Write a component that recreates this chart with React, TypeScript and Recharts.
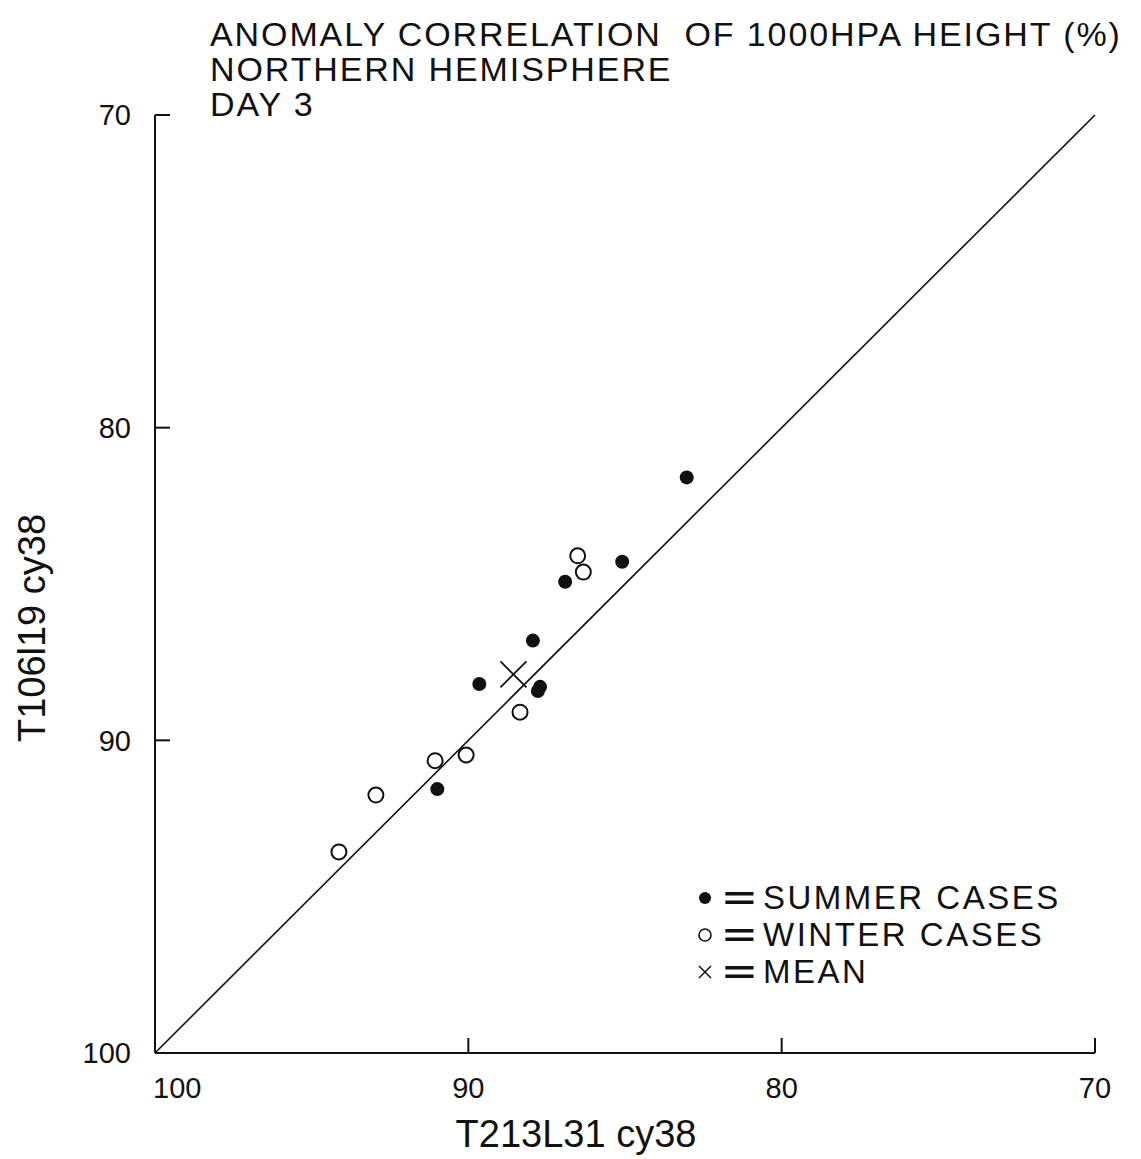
import React from 'react';
import { ScatterChart, Scatter, XAxis, YAxis, ReferenceLine, Legend } from 'recharts';

// values (x = T213L31, y = T106l19), both in %
const summerCases = [
  { x: 83.03, y: 81.59 },
  { x: 85.09, y: 84.29 },
  { x: 86.91, y: 84.93 },
  { x: 87.94, y: 86.81 },
  { x: 89.65, y: 88.2 },
  { x: 87.71, y: 88.29 },
  { x: 87.78, y: 88.42 },
  { x: 90.99, y: 91.56 },
];
const winterCases = [
  { x: 86.51, y: 84.1 },
  { x: 86.33, y: 84.62 },
  { x: 88.35, y: 89.1 },
  { x: 90.07, y: 90.47 },
  { x: 91.06, y: 90.65 },
  { x: 92.95, y: 91.75 },
  { x: 94.13, y: 93.57 },
];
const meanCase = [{ x: 88.56, y: 87.89 }];
const axisTicks = [100, 90, 80, 70];
const diagonal = [
  { x: 100, y: 100 },
  { x: 70, y: 70 },
];
const seriesNames = ['SUMMER CASES', 'WINTER CASES', 'MEAN'];
const titleLines = ['ANOMALY CORRELATION  OF 1000HPA HEIGHT (%)', 'NORTHERN HEMISPHERE', 'DAY 3'];
const xTitle = 'T213L31 cy38';
const yTitle = 'T106l19 cy38';

const FONT = '"Liberation Sans", Arial, Helvetica, sans-serif';
const INK = '#111';

const FilledDot = (props: any) => <circle cx={props.cx} cy={props.cy} r={7} fill={INK} />;
const OpenDot = (props: any) => (
  <circle cx={props.cx} cy={props.cy} r={7.5} fill="#fff" stroke={INK} strokeWidth={2} />
);
const Cross = (props: any) => {
  const { cx, cy } = props;
  const s = 13;
  return (
    <g stroke={INK} strokeWidth={1.8}>
      <line x1={cx - s} y1={cy - s} x2={cx + s} y2={cy + s} />
      <line x1={cx - s} y1={cy + s} x2={cx + s} y2={cy - s} />
    </g>
  );
};

const XTick = (props: any) => {
  const { x, y, payload } = props;
  const first = payload.value === 100;
  return (
    <text
      x={first ? x - 2 : x}
      y={y}
      dy="0.71em"
      textAnchor={first ? 'start' : 'middle'}
      fontSize={29}
      fontFamily={FONT}
      fill={INK}
    >
      {payload.value}
    </text>
  );
};

const legendIcon = (name: string) => {
  if (name === seriesNames[0]) return <circle cx={10} cy={10} r={6} fill={INK} />;
  if (name === seriesNames[1])
    return <circle cx={10} cy={10} r={6} fill="none" stroke={INK} strokeWidth={1.6} />;
  return (
    <g stroke={INK} strokeWidth={1.5}>
      <line x1={4} y1={4} x2={16} y2={16} />
      <line x1={4} y1={16} x2={16} y2={4} />
    </g>
  );
};

const renderLegend = (props: any) => {
  const items = [...(props.payload || [])].sort(
    (a: any, b: any) => seriesNames.indexOf(a.value) - seriesNames.indexOf(b.value)
  );
  return (
    <div style={{ fontFamily: FONT, color: INK }}>
      {items.map((item: any) => (
        <div key={item.value} style={{ display: 'flex', alignItems: 'center', height: 37 }}>
          <svg width={20} height={20} style={{ marginRight: 8 }}>
            {legendIcon(item.value)}
          </svg>
          <span
            style={{
              display: 'inline-block',
              fontSize: 32,
              fontWeight: 'bold',
              transform: 'scaleX(1.75)',
              transformOrigin: 'left center',
              width: 40,
              lineHeight: '32px',
            }}
          >
            =
          </span>
          <span style={{ fontSize: 33, lineHeight: '33px', letterSpacing: 2.5 }}>{item.value}</span>
        </div>
      ))}
    </div>
  );
};

export default function App() {
  return (
    <div style={{ position: 'absolute', left: 0, top: 0, width: 1141, height: 1159, background: '#fff' }}>
      <div
        style={{
          position: 'absolute',
          left: 210,
          top: 17,
          fontFamily: FONT,
          fontSize: 34,
          lineHeight: '35px',
          letterSpacing: 1.9,
          color: INK,
          whiteSpace: 'pre',
          zIndex: 2,
        }}
      >
        {titleLines.map((t) => (
          <div key={t}>{t}</div>
        ))}
      </div>
      <ScatterChart width={1141} height={1159} margin={{ top: 115, right: 46, bottom: 36, left: 85 }}>
        <XAxis
          type="number"
          dataKey="x"
          domain={[70, 100]}
          reversed
          ticks={axisTicks}
          interval={0}
          height={70}
          axisLine={{ stroke: INK, strokeWidth: 2 }}
          tickLine={{ stroke: INK, strokeWidth: 2 }}
          tickSize={-15}
          tickMargin={39}
          tick={<XTick />}
          label={{
            content: () => (
              <text x={576} y={1147} textAnchor="middle" fontSize={38} fontFamily={FONT} fill={INK}>
                {xTitle}
              </text>
            ),
          }}
        />
        <YAxis
          type="number"
          dataKey="y"
          domain={[70, 100]}
          reversed
          ticks={axisTicks}
          interval={0}
          width={70}
          axisLine={{ stroke: INK, strokeWidth: 2 }}
          tickLine={{ stroke: INK, strokeWidth: 2 }}
          tickSize={-15}
          tickMargin={39}
          tick={{ fontSize: 29, fontFamily: FONT, fill: INK }}
          label={{
            content: () => (
              <text
                x={45}
                y={628}
                transform="rotate(-90 45 628)"
                textAnchor="middle"
                fontSize={38}
                fontFamily={FONT}
                fill={INK}
              >
                {yTitle}
              </text>
            ),
          }}
        />
        <ReferenceLine segment={diagonal} stroke={INK} strokeWidth={1.6} ifOverflow="visible" />
        <Legend
          layout="vertical"
          align="center"
          verticalAlign="middle"
          wrapperStyle={{ left: 695, top: 879, width: 420 }}
          content={renderLegend}
        />
        <Scatter name={seriesNames[0]} data={summerCases} shape={FilledDot} isAnimationActive={false} />
        <Scatter name={seriesNames[1]} data={winterCases} shape={OpenDot} isAnimationActive={false} />
        <Scatter name={seriesNames[2]} data={meanCase} shape={Cross} isAnimationActive={false} />
      </ScatterChart>
    </div>
  );
}
